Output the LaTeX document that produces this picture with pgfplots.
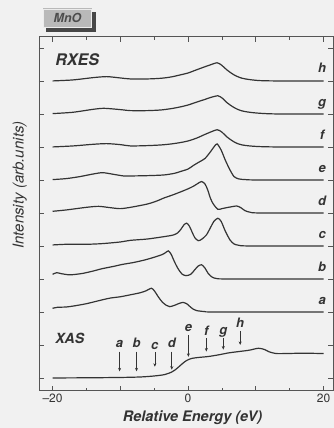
\documentclass[border=0pt]{standalone}
\usepackage{fontspec}
\setmainfont{TeX Gyre Heros}
\usepackage{pgfplots}
\pgfplotsset{compat=1.18}
\usetikzlibrary{arrows.meta}

\definecolor{paper}{RGB}{241,241,241}
\definecolor{ink}{RGB}{52,52,52}
\definecolor{frame}{RGB}{85,85,85}

\newcommand{\lbl}[1]{{\fontsize{13}{15}\selectfont\bfseries\itshape #1}}
\tikzset{
  tag/.style={anchor=base, text=black!80},
  exc/.style={ink, line width=0.6pt, -{Stealth[length=3.5pt,width=3pt]}},
}

\begin{document}
\begin{tikzpicture}
\fill[paper] (-39pt,-37.5pt) rectangle (295pt,390.5pt);
\begin{axis}[
  at={(0,0)}, anchor=south west,
  scale only axis, width=294pt, height=353.8pt,
  xmin=-22, xmax=21.4, ymin=-0.38, ymax=10.34,
  xtick={-20,-10,0,10,20},
  xticklabels={–20,,0,,20},
  minor x tick num=1,
  ytick={0,1,...,10}, yticklabels={},
  tick align=inside,
  major tick length=5pt, minor tick length=3pt,
  axis line style={frame, line width=0.8pt},
  every tick/.style={frame, line width=0.7pt},
  xticklabel style={font=\fontsize{12}{14}\selectfont, text=black!80},
  xlabel={\bfseries\itshape Relative Energy (eV)},
  xlabel style={at={(axis description cs:0.522,-0.078)}, anchor=center,
                font=\fontsize{14.5}{16}\selectfont, text=black!80},
  ylabel={\itshape Intensity (arb.units)},
  ylabel style={at={(axis description cs:-0.065,0.581)}, anchor=center,
                font=\fontsize{15}{17}\selectfont, text=black!80},
  every axis plot post/.append style={ink, solid, line width=1.2pt,
                                      smooth, tension=0.45, mark=none},
]
% RXES spectra, stacked with unit offsets (h on top)
\addplot coordinates {(-20,9.00) (-17,9.03) (-14,9.10) (-12,9.13) (-10,9.09) (-8.5,9.06) (-6,9.06) (-4,9.08) (-2.5,9.12) (-1.2,9.18) (0,9.24) (1.3,9.34) (2.5,9.43) (3.2,9.48) (4.3,9.55) (5,9.47) (5.7,9.34) (6.5,9.22) (7.2,9.14) (8,9.08) (9.1,9.04) (10.6,9.01) (13,9.00) (20,9.00)};
\addplot coordinates {(-20,8.01) (-17,8.05) (-14,8.14) (-12.5,8.17) (-11,8.15) (-9.5,8.12) (-8.5,8.10) (-6,8.10) (-4,8.12) (-2.5,8.16) (-1.2,8.21) (0,8.27) (1.3,8.36) (2.5,8.44) (3.2,8.49) (4.4,8.55) (5.1,8.47) (5.7,8.35) (6.5,8.23) (7.2,8.15) (8,8.09) (9.1,8.05) (10.6,8.02) (13,8.00) (20,8.00)};
\addplot coordinates {(-20,7.00) (-17,7.03) (-14,7.08) (-12,7.10) (-10,7.07) (-8.5,7.03) (-6,7.04) (-4,7.06) (-2.5,7.09) (-1.2,7.13) (0,7.18) (1.3,7.27) (2.5,7.38) (3.2,7.44) (4.3,7.52) (5,7.45) (5.7,7.31) (6.5,7.19) (7.2,7.11) (8,7.06) (9.1,7.03) (10.6,7.01) (13,7.00) (20,7.00)};
\addplot coordinates {(-20,6.01) (-18,6.04) (-16,6.10) (-14,6.18) (-12.6,6.22) (-11,6.17) (-9.5,6.12) (-8.5,6.12) (-6,6.13) (-3.6,6.15) (-2,6.20) (-1.2,6.25) (0,6.33) (0.8,6.44) (1.7,6.55) (2.5,6.65) (3.3,6.85) (3.9,7.02) (4.3,7.09) (4.9,6.90) (5.5,6.60) (6.2,6.30) (6.8,6.10) (7.5,6.03) (8.5,6.01) (10,6.00) (20,6.00)};
\addplot coordinates {(-20,5.05) (-18,5.09) (-15,5.17) (-13.2,5.20) (-11.5,5.16) (-10,5.13) (-8.5,5.17) (-6,5.27) (-4.5,5.37) (-3.6,5.45) (-2.2,5.55) (-1.2,5.63) (0,5.73) (0.8,5.81) (1.5,5.90) (2.0,5.95) (2.5,5.88) (2.9,5.70) (3.3,5.45) (3.7,5.28) (4.4,5.11) (5.0,5.13) (5.7,5.16) (6.5,5.19) (7.2,5.21) (7.8,5.16) (8.4,5.07) (9.2,5.02) (10.5,5.00) (20,5.00)};
\addplot coordinates {(-20,4.03) (-18,4.05) (-15,4.05) (-12.7,4.07) (-10,4.12) (-8.5,4.17) (-6,4.21) (-3.6,4.28) (-2.2,4.33) (-1.5,4.40) (-1.0,4.52) (-0.6,4.64) (-0.2,4.69) (0.2,4.60) (0.6,4.42) (1.0,4.25) (1.5,4.16) (2.0,4.20) (2.7,4.33) (3.3,4.55) (3.8,4.74) (4.4,4.84) (4.9,4.74) (5.5,4.45) (6.2,4.18) (6.8,4.06) (7.5,4.02) (9,4.00) (20,4.00)};
\addplot coordinates {(-20,3.14) (-19.4,3.19) (-18.7,3.16) (-17.8,3.13) (-17,3.13) (-15.5,3.17) (-14,3.24) (-12.7,3.31) (-11,3.38) (-9.7,3.44) (-8,3.50) (-6.3,3.58) (-4.8,3.67) (-3.8,3.74) (-3.3,3.80) (-2.9,3.85) (-2.5,3.75) (-2.0,3.52) (-1.5,3.32) (-0.9,3.15) (-0.3,3.10) (0.4,3.14) (1.0,3.28) (1.5,3.39) (2.0,3.43) (2.5,3.33) (3.0,3.16) (3.6,3.05) (4.3,3.01) (6,3.00) (20,3.00)};
\addplot coordinates {(-20,2.11) (-19.3,2.14) (-18,2.15) (-16.9,2.18) (-15,2.25) (-13,2.35) (-11.5,2.42) (-10,2.46) (-8.5,2.52) (-7.1,2.58) (-6.2,2.64) (-5.4,2.72) (-4.9,2.62) (-4.4,2.46) (-3.8,2.30) (-3.2,2.20) (-2.7,2.16) (-2.0,2.20) (-1.3,2.26) (-0.7,2.29) (-0.2,2.25) (0.3,2.16) (0.8,2.08) (1.3,2.04) (2.5,2.01) (4,2.00) (20,2.00)};
% XAS
\addplot coordinates {(-20,0.00) (-15,0.005) (-10,0.015) (-7,0.03) (-5,0.06) (-3.5,0.10) (-2.5,0.17) (-2,0.23) (-1.4,0.33) (-0.8,0.44) (-0.2,0.53) (0.5,0.59) (1.5,0.62) (3,0.65) (4.5,0.70) (6,0.76) (7.5,0.80) (9,0.84) (10.4,0.90) (11.3,0.86) (12,0.79) (13,0.74) (14.5,0.74) (17,0.75) (20,0.74)};

% panel titles
\node[anchor=base west, text=black!80] at (axis cs:-20.1,9.48) {\fontsize{16}{18}\selectfont\bfseries\itshape RXES};
\node[anchor=base west, text=black!80] at (axis cs:-20.1,1.03) {\fontsize{14}{16}\selectfont\bfseries\itshape XAS};

% spectrum labels on the right
\node[tag] at (axis cs:19.8,9.24) {\lbl{h}};
\node[tag] at (axis cs:19.8,8.24) {\lbl{g}};
\node[tag] at (axis cs:19.8,7.24) {\lbl{f}};
\node[tag] at (axis cs:19.8,6.24) {\lbl{e}};
\node[tag] at (axis cs:19.8,5.24) {\lbl{d}};
\node[tag] at (axis cs:19.8,4.24) {\lbl{c}};
\node[tag] at (axis cs:19.8,3.24) {\lbl{b}};
\node[tag] at (axis cs:19.8,2.24) {\lbl{a}};

% excitation energies marked on the XAS spectrum
\draw[exc] (axis cs:-10.1,0.80) -- (axis cs:-10.1,0.20);
\node[tag] at (axis cs:-10.1,0.93) {\lbl{a}};
\draw[exc] (axis cs:-7.6,0.80) -- (axis cs:-7.6,0.20);
\node[tag] at (axis cs:-7.6,0.93) {\lbl{b}};
\draw[exc] (axis cs:-4.9,0.78) -- (axis cs:-4.9,0.34);
\node[tag] at (axis cs:-4.9,0.87) {\lbl{c}};
\draw[exc] (axis cs:-2.4,0.80) -- (axis cs:-2.4,0.25);
\node[tag] at (axis cs:-2.4,0.93) {\lbl{d}};
\draw[exc] (axis cs:0.05,1.30) -- (axis cs:0.05,0.64);
\node[tag] at (axis cs:0.05,1.42) {\lbl{e}};
\draw[exc] (axis cs:2.7,1.20) -- (axis cs:2.7,0.80);
\node[tag] at (axis cs:2.7,1.28) {\lbl{f}};
\draw[exc] (axis cs:5.2,1.20) -- (axis cs:5.2,0.86);
\node[tag] at (axis cs:5.2,1.33) {\lbl{g}};
\draw[exc] (axis cs:7.7,1.43) -- (axis cs:7.7,1.00);
\node[tag] at (axis cs:7.7,1.52) {\lbl{h}};
\end{axis}

% sample tag
\fill[black!72] (7.5pt,358.8pt) rectangle (56.5pt,378.8pt);
\fill[gray!55] (4pt,362.2pt) rectangle (53pt,382.2pt);
\draw[white!85!gray, line width=0.6pt] (4.6pt,362.8pt) rectangle (52.4pt,381.6pt);
\node[text=black!70] at (28.5pt,372.2pt) {\fontsize{12.5}{14}\selectfont\bfseries\itshape MnO};

\pgfresetboundingbox
\path (-39pt,-37.5pt) rectangle (295pt,390.5pt);
\end{tikzpicture}
\end{document}
